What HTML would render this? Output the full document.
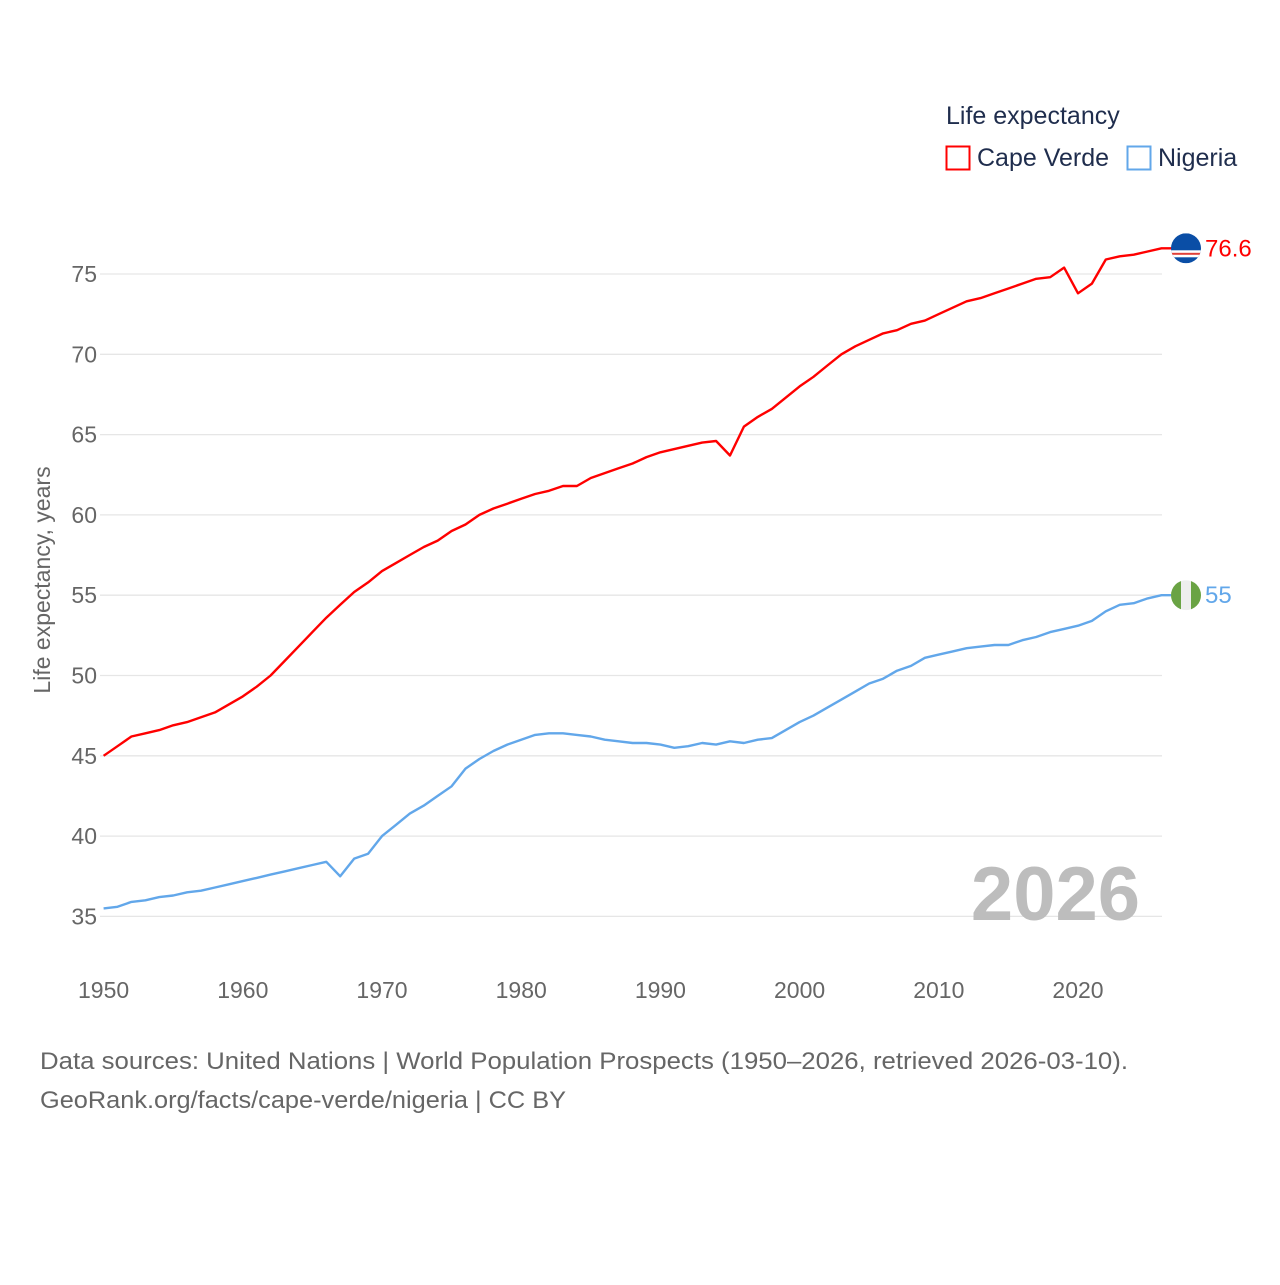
<!DOCTYPE html>
<html><head><meta charset="utf-8">
<style>
body{margin:0;background:#fff;font-family:"Liberation Sans",sans-serif;}
svg text{font-family:"Liberation Sans",sans-serif;}
</style></head>
<body>
<svg id="chart" width="1280" height="1280" xmlns="http://www.w3.org/2000/svg">
<rect width="1280" height="1280" fill="#fff"/>
<g id="grid"></g>
<g id="yticks"></g>
<g id="xticks"></g>
<text x="1140" y="920" text-anchor="end" font-size="76" font-weight="bold" fill="#bdbdbd">2026</text>
<g id="lines"></g>
<text transform="translate(50,580) rotate(-90)" text-anchor="middle" font-size="23" fill="#666">Life expectancy, years</text>
<text x="946" y="124" font-size="25" fill="#1f2d4d">Life expectancy</text>
<g>
<rect x="946.5" y="146.5" width="23" height="23" fill="none" stroke="#ff0000" stroke-width="2"/>
<text x="977" y="166" font-size="25" fill="#1f2d4d">Cape Verde</text></g>
<g>
<rect x="1127.5" y="146.5" width="23" height="23" fill="none" stroke="#62a7ea" stroke-width="2"/>
<text x="1158" y="166" font-size="25" fill="#1f2d4d">Nigeria</text></g>
<text x="40" y="1069" font-size="24" fill="#666" textLength="1088" lengthAdjust="spacingAndGlyphs">Data sources: United Nations | World Population Prospects (1950–2026, retrieved 2026-03-10).</text>
<text x="40" y="1108" font-size="24" fill="#666" textLength="526" lengthAdjust="spacingAndGlyphs">GeoRank.org/facts/cape-verde/nigeria | CC BY</text>
</svg>
<script>
const years=[];for(let y=1950;y<=2026;y++)years.push(y);
const capeVerde=[45.0,45.6,46.2,46.4,46.6,46.9,47.1,47.4,47.7,48.2,48.7,49.3,50.0,50.9,51.8,52.7,53.6,54.4,55.2,55.8,56.5,57.0,57.5,58.0,58.4,59.0,59.4,60.0,60.4,60.7,61.0,61.3,61.5,61.8,61.8,62.3,62.6,62.9,63.2,63.6,63.9,64.1,64.3,64.5,64.6,63.7,65.5,66.1,66.6,67.3,68.0,68.6,69.3,70.0,70.5,70.9,71.3,71.5,71.9,72.1,72.5,72.9,73.3,73.5,73.8,74.1,74.4,74.7,74.8,75.4,73.8,74.4,75.9,76.1,76.2,76.4,76.6];
const nigeria=[35.5,35.6,35.9,36.0,36.2,36.3,36.5,36.6,36.8,37.0,37.2,37.4,37.6,37.8,38.0,38.2,38.4,37.5,38.6,38.9,40.0,40.7,41.4,41.9,42.5,43.1,44.2,44.8,45.3,45.7,46.0,46.3,46.4,46.4,46.3,46.2,46.0,45.9,45.8,45.8,45.7,45.5,45.6,45.8,45.7,45.9,45.8,46.0,46.1,46.6,47.1,47.5,48.0,48.5,49.0,49.5,49.8,50.3,50.6,51.1,51.3,51.5,51.7,51.8,51.9,51.9,52.2,52.4,52.7,52.9,53.1,53.4,54.0,54.4,54.5,54.8,55.0];
const yTicks=[35,40,45,50,55,60,65,70,75];
const xTicks=[1950,1960,1970,1980,1990,2000,2010,2020];
const NS="http://www.w3.org/2000/svg";
function X(y){return 103.6+(y-1950)*13.92;}
function Y(v){return 274+(75-v)*16.06;}
function mk(t,a,p){const e=document.createElementNS(NS,t);for(const k in a)e.setAttribute(k,a[k]);p.appendChild(e);return e;}
const grid=document.getElementById('grid'),yt=document.getElementById('yticks'),xt=document.getElementById('xticks'),ln=document.getElementById('lines');
yTicks.forEach(v=>{
 const l=mk('line',{x1:100,x2:1162,y1:Y(v),y2:Y(v),stroke:'#e6e6e6','stroke-width':1.3},grid);
 
 
 const t=mk('text',{x:97,y:Y(v)+8,'text-anchor':'end','font-size':23,fill:'#666'},yt);t.textContent=v;
 
 
});
xTicks.forEach(v=>{
 const t=mk('text',{x:X(v),y:998,'text-anchor':'middle','font-size':23,fill:'#666'},xt);t.textContent=v;
 
 
});
function series(vals,color,name,label,flag){
 const pts=vals.map((v,i)=>X(years[i]).toFixed(1)+','+Y(v).toFixed(1));
 const last=vals[vals.length-1];
 pts.push((X(2026)+10)+','+Y(last).toFixed(1));
 const p=mk('polyline',{points:pts.join(' '),fill:'none',stroke:color,'stroke-width':2.4,'stroke-linejoin':'round'},ln);
 
 
 const cx=1186,cy=Y(last);
 const g=mk('g',{},ln);
 
 
 const cid='clip-'+name;
 const cp=mk('clipPath',{id:cid},g);mk('circle',{cx:cx,cy:cy,r:15},cp);
 const fg=mk('g',{'clip-path':'url(#'+cid+')'},g);
 if(flag==='cv'){
  mk('rect',{x:cx-15,y:cy-15,width:30,height:30,fill:'#0a4ea6'},fg);
  mk('rect',{x:cx-15,y:cy+2,width:30,height:7,fill:'#fff'},fg);
  mk('rect',{x:cx-15,y:cy+4.5,width:30,height:2,fill:'#e0403a'},fg);
 }else{
  mk('rect',{x:cx-15,y:cy-15,width:30,height:30,fill:'#eee'},fg);
  mk('rect',{x:cx-15,y:cy-15,width:10,height:30,fill:'#6aa344'},fg);
  mk('rect',{x:cx+5,y:cy-15,width:10,height:30,fill:'#6aa344'},fg);
 }
 const t=mk('text',{x:1205,y:cy+8,'font-size':24,fill:color},ln);t.textContent=label;
 
 
}
series(capeVerde,'#ff0000','cape-verde','76.6','cv');
series(nigeria,'#62a7ea','nigeria','55','ng');
</script>
</body></html>
